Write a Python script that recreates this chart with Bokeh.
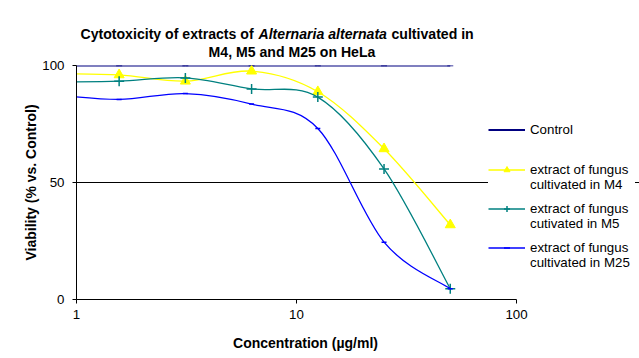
import numpy as np
from bokeh.plotting import figure
from bokeh.models import (ColumnDataSource, FixedTicker, Legend, LegendItem, Label,
                          CustomJSTickFormatter)
from bokeh.embed import file_html
from bokeh.resources import INLINE

# ---- data ----
concentration = [0.78125, 1.5625, 3.125, 6.25, 12.5, 25, 50]
control = [100, 100, 100, 100, 100, 100, 100]
m4 = [96.5, 96.0, 93.3, 97.6, 88.8, 64.4, 31.9]
m5 = [92.9, 93.3, 94.7, 90.0, 86.5, 55.8, 4.6]
m25 = [87.5, 85.5, 88.0, 83.5, 73.1, 24.5, 4.6]

x_ticks = [1, 10, 100]
y_ticks = [0, 50, 100]

FONT = "Liberation Sans"

# layout (pixels)
W, H = 639, 358
LEFT, RIGHT_AXIS_END, TOP, BOTTOM = 76, 516, 65, 299


def smooth_segments(xs, ys):
    """Excel-like smoothed line: cubic Bezier segments with Catmull-Rom control
    points, computed in log10(x)/y space (affine to screen space)."""
    lx = np.log10(np.asarray(xs, float))
    ly = np.asarray(ys, float)
    n = len(lx)
    d = dict(x0=[], y0=[], x1=[], y1=[], cx0=[], cy0=[], cx1=[], cy1=[])
    for i in range(n - 1):
        im1 = max(i - 1, 0)
        ip2 = min(i + 2, n - 1)
        c0x = lx[i] + (lx[i + 1] - lx[im1]) / 6
        c0y = ly[i] + (ly[i + 1] - ly[im1]) / 6
        c1x = lx[i + 1] - (lx[ip2] - lx[i]) / 6
        c1y = ly[i + 1] - (ly[ip2] - ly[i]) / 6
        d["x0"].append(10 ** lx[i]); d["y0"].append(ly[i])
        d["x1"].append(10 ** lx[i + 1]); d["y1"].append(ly[i + 1])
        d["cx0"].append(10 ** c0x); d["cy0"].append(c0y)
        d["cx1"].append(10 ** c1x); d["cy1"].append(c1y)
    return ColumnDataSource(d)


# the plot frame runs to the right edge (so the legend is not clipped);
# the axis itself is bounded to 1..100
decade_px = (RIGHT_AXIS_END - LEFT) / 2.0
x_end = 10 ** ((W - LEFT) / decade_px)

p = figure(width=W, height=H, x_axis_type="log", x_range=(1, x_end),
           y_range=(0, 100), output_backend="svg", toolbar_location=None,
           min_border_left=LEFT, min_border_right=0, min_border_top=TOP,
           min_border_bottom=H - BOTTOM)
p.title.visible = False
p.outline_line_color = None

p.xaxis.ticker = FixedTicker(ticks=x_ticks)
p.yaxis.ticker = FixedTicker(ticks=y_ticks)
p.xaxis.bounds = (1, 100)
p.xaxis.minor_tick_line_color = None
p.yaxis.minor_tick_line_color = None
for ax in (p.xaxis, p.yaxis):
    ax.axis_line_color = "black"
    ax.major_tick_line_color = "black"
    ax.major_tick_in = 0
    ax.major_tick_out = 4
    ax.major_label_text_font = FONT
    ax.major_label_text_font_size = "13.3px"
    ax.major_label_text_color = "black"
    ax.axis_label_text_font = FONT
    ax.axis_label_text_font_size = "14px"
    ax.axis_label_text_font_style = "bold"
    ax.axis_label_text_color = "black"
p.xaxis.major_label_standoff = 6
p.yaxis.major_label_standoff = 8
p.yaxis.axis_label = "Viability (% vs. Control)"
p.yaxis.axis_label_standoff = 0
p.xaxis.formatter = CustomJSTickFormatter(code="return tick.toString()")

p.xgrid.visible = False
p.ygrid.ticker = FixedTicker(ticks=[50])
p.ygrid.grid_line_color = "black"
p.ygrid.grid_line_width = 1

series = [
    ("Control", control, "#000080", 2.0, "dash", 6, None),
    ("\nextract of fungus\ncultivated in M4", m4, "#FFFF00", 1.3, "triangle", 10, "#FFFF00"),
    ("\nextract of fungus\ncutivated in M5", m5, "#008080", 1.3, "cross", 10, None),
    ("\nextract of fungus\ncultivated in M25", m25, "#0000FF", 1.3, "dash", 5, None),
]
# legend box bottom offsets (px above the x axis) for each entry
legend_y = [162, 107, 68, 29]

items = []
for label, ys, color, lw, marker, size, fill in series:
    src = smooth_segments(concentration, ys)
    b = p.bezier(x0="x0", y0="y0", x1="x1", y1="y1", cx0="cx0", cy0="cy0",
                 cx1="cx1", cy1="cy1", source=src, line_color=color,
                 line_width=lw)
    s = p.scatter(concentration, ys, marker=marker, size=size,
                  line_color=color, fill_color=fill if fill else color,
                  line_width=1.5 if marker != "triangle" else 1)
    items.append(LegendItem(label=label, renderers=[b, s]))

legend_style = dict(orientation="vertical", glyph_width=37, glyph_height=15,
                    label_standoff=5, label_width=105, padding=2, margin=0,
                    label_text_font=FONT, label_text_font_size="13.3px",
                    label_text_color="black", border_line_color=None,
                    background_fill_color="white", background_fill_alpha=1.0)
# one legend per entry, added bottom-up so a box only overlaps the blank
# first line of the entry below it
for item, ly in reversed(list(zip(items, legend_y))):
    p.add_layout(Legend(items=[item], location=(488 - LEFT, ly), **legend_style),
                 "center")

# x axis title (centred as in the reference)
p.add_layout(Label(x=305, y=342.5, x_units="canvas", y_units="canvas",
                   text="Concentration (µg/ml)", text_font=FONT,
                   text_font_size="14px", text_font_style="bold",
                   text_align="center", text_baseline="alphabetic",
                   text_color="black"), "below")

title_parts = [
    ("Cytotoxicity of extracts of", 80, 33, "bold", "left"),
    ("Alternaria alternata", 258, 33, "bold italic", "left"),
    ("cultivated in", 391, 33, "bold", "left"),
    ("M4, M5 and M25 on HeLa", 291.5, 51, "bold", "center"),
]
for txt, tx, ty, style, align in title_parts:
    p.add_layout(Label(x=tx, y=ty, x_units="canvas", y_units="canvas",
                       text=txt, text_font=FONT, text_font_size="14.1px",
                       text_font_style=style, text_align=align,
                       text_baseline="alphabetic", text_color="black"), "above")

open("out.html", "w").write(file_html(p, INLINE))
